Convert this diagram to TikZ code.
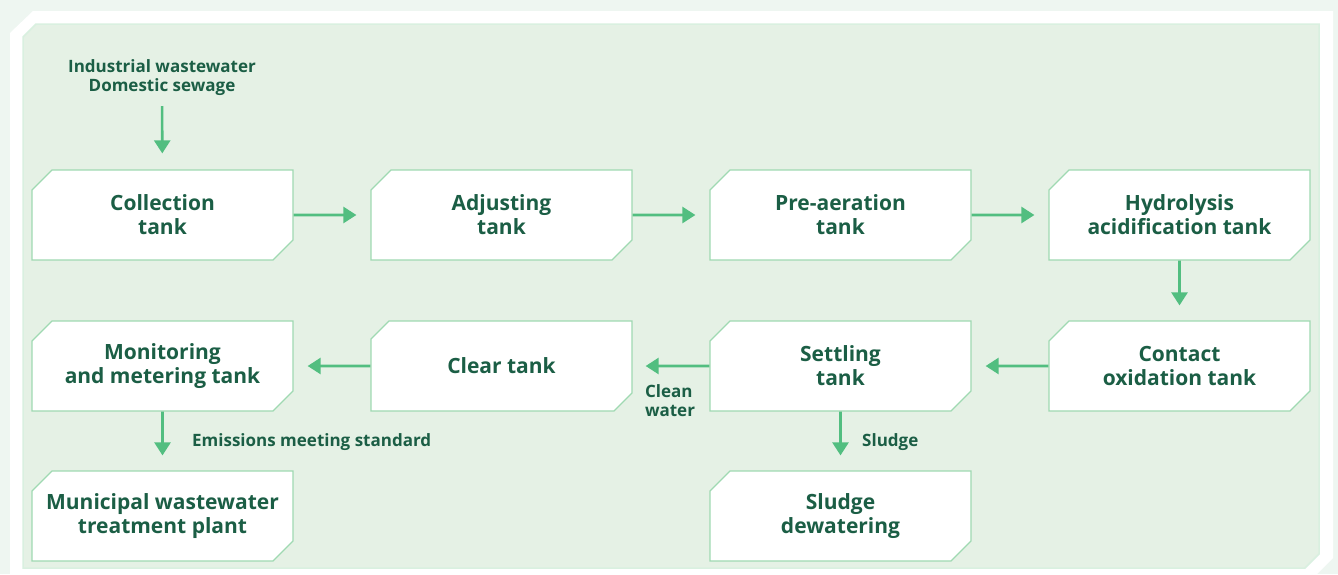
\documentclass[tikz,border=0pt]{standalone}
\usepackage{fontspec}
\setmainfont{Open Sans}
\usetikzlibrary{arrows.meta,shapes.misc}

\definecolor{textgreen}{HTML}{1B5E45}
\definecolor{arrowgreen}{HTML}{52BE80}
\definecolor{edgegreen}{HTML}{9FD9B2}
\definecolor{panelgreen}{HTML}{E5F1E5}
\definecolor{pagegreen}{HTML}{EEF6F1}

\begin{document}
\begin{tikzpicture}[x=1pt,y=-1pt]
\useasboundingbox (0,0) rectangle (1338,574);
\fill[pagegreen] (0,0) rectangle (1338,574);
\fill[white] (33,11) -- (1333,11) -- (1333,558) -- (1317,574) -- (10,574) -- (10,33) -- cycle;
\fill[panelgreen, draw=edgegreen!40, line width=1.5pt]
    (36,24) -- (1319,24) -- (1319,554) -- (1305,568) -- (23,568) -- (23,37) -- cycle;

\begin{scope}[every node/.style={chamfered rectangle,
                                  chamfered rectangle corners={north west,south east},
                                  chamfered rectangle xsep=10pt, chamfered rectangle ysep=10pt,
                                  minimum width=261pt, minimum height=90pt, inner sep=0pt,
                                  fill=white, draw=edgegreen, line width=1.2pt,
                                  align=center, text=textgreen,
                                  font=\fontsize{21}{24}\selectfont\bfseries}]
    \node (collect) at (162.5,215) {Collection\\tank};
    \node (adjust) at (501.5,215) {Adjusting\\tank};
    \node (preair) at (840.5,215) {Pre-aeration\\tank};
    \node (hydro) at (1179.5,215) {Hydrolysis\\acidification tank};
    \node (contact) at (1179.5,366) {Contact\\oxidation tank};
    \node (settle) at (840.5,366) {Settling\\tank};
    \node (clear) at (501.5,366) {Clear tank};
    \node (monitor) at (162.5,366) {Monitoring\\and metering tank};
    \node (municipal) at (162.5,516) {Municipal wastewater\\treatment plant};
    \node (sludge) at (840.5,516) {Sludge\\dewatering};
\end{scope}

\begin{scope}[every node/.style={text=textgreen, inner sep=0pt,
                                  font=\fontsize{17}{19}\selectfont\bfseries}]
    \node[align=center] (inflow) at (162,78) {Industrial wastewater\\Domestic sewage};
    \node[align=left] (cleanlbl) at (670,400.5) {Clean\\water};
    \node[anchor=west] (emitlbl) at (192,442) {Emissions meeting standard};
    \node[anchor=west] (sludgelbl) at (862,442) {Sludge};
\end{scope}

\begin{scope}[>={Triangle[length=13pt,width=16pt]},
              every edge/.style={draw=arrowgreen, line width=2.6pt, shorten >=14pt}]
    \path [->] (inflow) edge[shorten <=10pt, shorten >=16pt] (collect);
    \path [->] (collect) edge (adjust);
    \path [->] (adjust) edge (preair);
    \path [->] (preair) edge (hydro);
    \path [->] (hydro) edge[shorten >=15pt] (contact);
    \path [->] (contact) edge (settle);
    \path [->] (settle) edge[shorten >=13pt] (clear);
    \path [->] (clear) edge (monitor);
    \path [->] (monitor) edge[shorten >=15pt] (municipal);
    \path [->] (settle) edge[shorten >=15pt] (sludge);
\end{scope}
\end{tikzpicture}
\end{document}
